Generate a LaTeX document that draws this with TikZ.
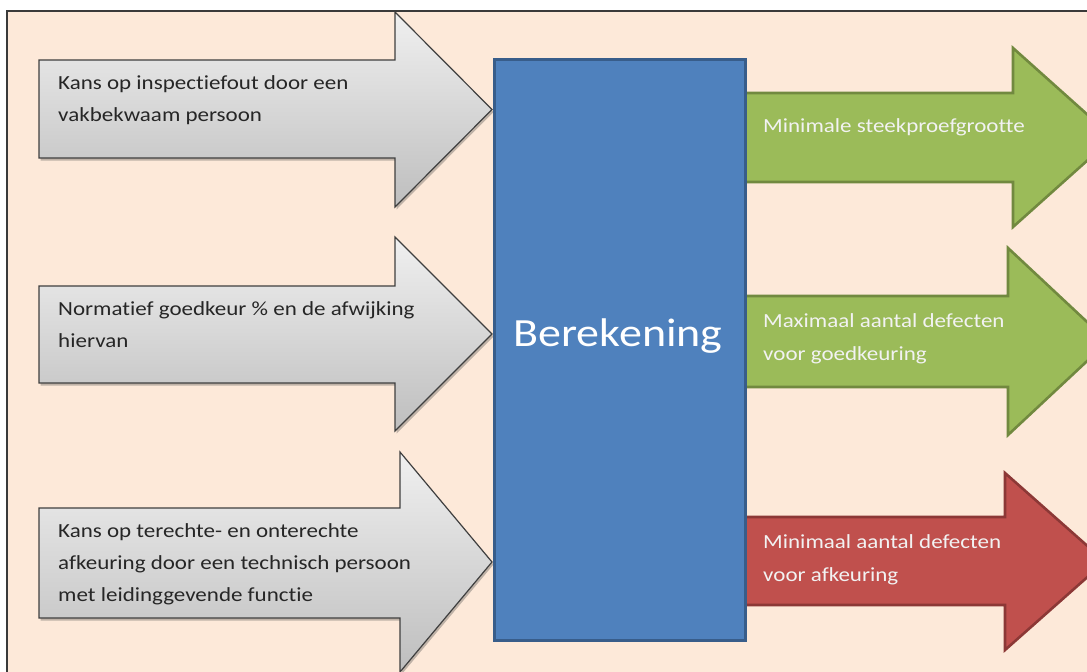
\documentclass[tikz,border=0pt]{standalone}
\usepackage{fontspec}
\setmainfont{Carlito}[Ligatures=NoCommon]
\usetikzlibrary{shadows}
\definecolor{peach}{HTML}{FDE9D9}
\definecolor{frame}{HTML}{3A3A3A}
\definecolor{graytop}{HTML}{F0F0F0}
\definecolor{graybot}{HTML}{BEBEBE}
\definecolor{grayedge}{HTML}{3F3F3F}
\definecolor{bluefill}{HTML}{4F81BD}
\definecolor{blueedge}{HTML}{385D8A}
\definecolor{greenfill}{HTML}{9BBB59}
\definecolor{greenedge}{HTML}{71893F}
\definecolor{redfill}{HTML}{C0504D}
\definecolor{rededge}{HTML}{8C3836}
\definecolor{darktext}{HTML}{262626}
\tikzset{
  inarrow/.style={top color=graytop, bottom color=graybot, draw=grayedge, line width=1.2pt, line join=miter,
    drop shadow={shadow xshift=1.5pt, shadow yshift=-2.5pt, opacity=0.35, fill=black!70}},
  greenarrow/.style={fill=greenfill, draw=greenedge, line width=2.6pt, line join=miter},
  redarrow/.style={fill=redfill, draw=rededge, line width=2.6pt, line join=miter},
  wide/.style={xscale=1.15, transform shape},
  intext/.style={wide, anchor=west, align=left, font=\fontsize{20}{32}\selectfont, text=darktext, inner sep=0pt},
  outtext/.style={wide, anchor=west, align=left, font=\fontsize{20}{33}\selectfont, text=white!95!black, inner sep=0pt},
}
\begin{document}
\begin{tikzpicture}[x=1pt,y=-1pt]
\useasboundingbox (0,0) rectangle (1087,672);
\clip (0,0) rectangle (1087,672);
% background panel
\fill[peach] (7,11) rectangle (1095,680);
\draw[frame, line width=1.6pt] (7,680) -- (7,11) -- (1095,11);
% input arrows
\draw[inarrow] (39,60) -- (395,60) -- (395,12) -- (492,109.5) -- (395,207) -- (395,158) -- (39,158) -- cycle;
\draw[inarrow] (39,286) -- (395,286) -- (395,237) -- (492,334) -- (395,431) -- (395,383) -- (39,383) -- cycle;
\draw[inarrow] (39,508) -- (400,508) -- (400,452) -- (492,562) -- (400,672) -- (400,618) -- (39,618) -- cycle;
% output arrows
\draw[greenarrow] (743,93) -- (1013,93) -- (1013,48) -- (1113,137.5) -- (1013,227) -- (1013,182) -- (743,182) -- cycle;
\draw[greenarrow] (743,296) -- (1008,296) -- (1008,248) -- (1108,341.5) -- (1008,435) -- (1008,387) -- (743,387) -- cycle;
\draw[redarrow] (743,517) -- (1005,517) -- (1005,473) -- (1105,561.5) -- (1005,650) -- (1005,605) -- (743,605) -- cycle;
% central box
\node[fill=bluefill, draw=blueedge, line width=3pt, minimum width=251pt, minimum height=581pt, anchor=north west, inner sep=0pt] (calc) at (492.5,57.5) {};
\node[wide, font=\fontsize{40}{40}\selectfont, text=white] (calctext) at (618,336) {Berekening};
% texts
\node[intext] (in1) at (58,100) {Kans op inspectiefout door een\\vakbekwaam persoon};
\node[intext] (in2) at (58,325) {Normatief goedkeur \% en de afwijking\\hiervan};
\node[intext] (in3) at (58,564) {Kans op terechte- en onterechte\\afkeuring door een technisch persoon\\met leidinggevende functie};
\node[outtext] (out1) at (763,127) {Minimale steekproefgrootte};
\node[outtext] (out2) at (763,339) {Maximaal aantal defecten\\voor goedkeuring};
\node[outtext] (out3) at (763,560) {Minimaal aantal defecten\\voor afkeuring};
\end{tikzpicture}
\end{document}
